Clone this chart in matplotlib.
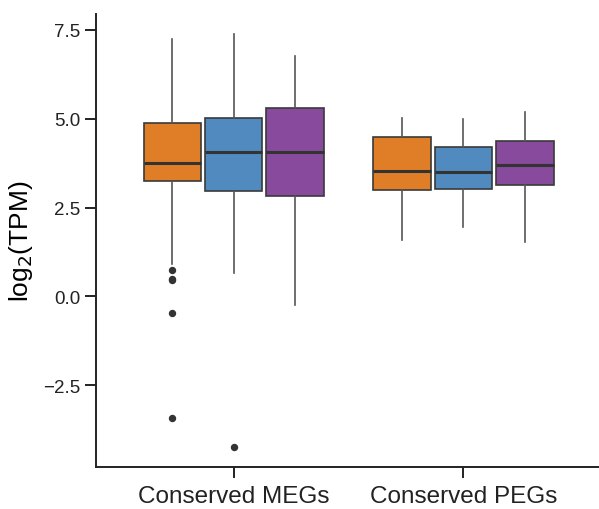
import matplotlib
matplotlib.use('Agg')
import matplotlib.pyplot as plt

plt.rcParams['font.family'] = ['Liberation Sans', 'DejaVu Sans']

groups = ['Conserved MEGs', 'Conserved PEGs']
colors = ['#E07D27', '#508ABF', '#874A9C']

# per group, per hue: (whislo, q1, med, q3, whishi, fliers)
meg_stats = [
    (0.90, 3.24, 3.74, 4.89, 7.24, [0.74, 0.50, 0.46, -0.46, -3.41]),
    (0.67, 2.98, 4.06, 5.03, 7.37, [-4.22]),
    (-0.25, 2.84, 4.07, 5.30, 6.75, []),
]
peg_stats = [
    (1.60, 3.00, 3.54, 4.48, 5.02, []),
    (1.96, 3.01, 3.49, 4.19, 4.98, []),
    (1.53, 3.13, 3.69, 4.38, 5.19, []),
]

fig = plt.figure(figsize=(5.99, 5.10), dpi=100)
ax = fig.add_axes([0.160, 0.082, 0.840, 0.889])

offsets = [-0.267, 0.0, 0.267]
for gi, stats in enumerate([meg_stats, peg_stats]):
    for hi, (lo, q1, med, q3, hi_w, fl) in enumerate(stats):
        st = [dict(whislo=lo, q1=q1, med=med, q3=q3, whishi=hi_w, fliers=fl)]
        ax.bxp(st, positions=[gi + offsets[hi]], widths=0.25, patch_artist=True,
               showcaps=False,
               boxprops=dict(facecolor=colors[hi], edgecolor='#3a3a3a', linewidth=1.2),
               medianprops=dict(color='#333333', linewidth=2.2),
               whiskerprops=dict(color='#555555', linewidth=1.2),
               flierprops=dict(marker='o', markersize=4.3, markerfacecolor='#333333',
                               markeredgecolor='#333333'))

ax.set_xlim(-0.6, 1.59)
ax.set_ylim(-4.80, 7.95)
ax.set_yticks([-2.5, 0.0, 2.5, 5.0, 7.5])
ax.set_yticklabels(['\u22122.5', '0.0', '2.5', '5.0', '7.5'])
ax.set_xticks([0, 1])
ax.set_xticklabels(groups)
ax.set_ylabel('log$_2$(TPM)', fontsize=19, labelpad=6)

ax.spines['top'].set_visible(False)
ax.spines['right'].set_visible(False)
for s in ['left', 'bottom']:
    ax.spines[s].set_linewidth(1.4)
    ax.spines[s].set_color('#222222')
ax.tick_params(axis='y', labelsize=13.5, length=8, width=1.4, color='#222222',
               labelcolor='#222222', pad=3)
ax.tick_params(axis='x', labelsize=17.5, length=8, width=1.4, color='#222222',
               labelcolor='#222222', pad=5)

fig.savefig('out.png', dpi=100)
